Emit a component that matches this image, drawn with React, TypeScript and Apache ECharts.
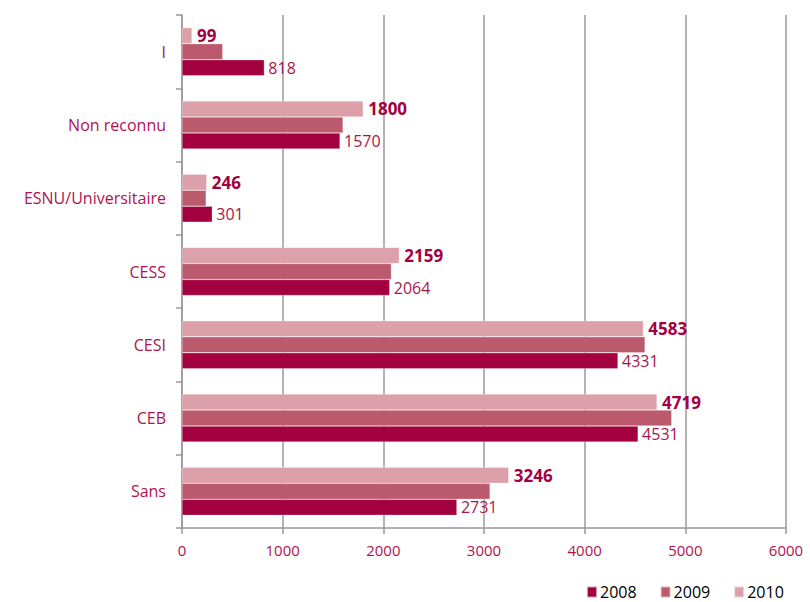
import React, { useEffect, useRef } from "react";
import * as echarts from "echarts";

const categories = ["Sans", "CEB", "CESI", "CESS", "ESNU/Universitaire", "Non reconnu", "I"];
const values2008 = [2731, 4531, 4331, 2064, 301, 1570, 818];
const values2009 = [3060, 4865, 4600, 2080, 240, 1600, 405];
const values2010 = [3246, 4719, 4583, 2159, 246, 1800, 99];
const seriesNames = ["2008", "2009", "2010"];
const xTicks = { min: 0, max: 6000, interval: 1000 };

const FONT = "'Open Sans', 'Noto Sans', sans-serif";
const LABEL_RED = "#B0124F";

export default function App() {
  const ref = useRef<HTMLDivElement>(null);
  useEffect(() => {
    if (!ref.current) return;
    const chart = echarts.init(ref.current, undefined, { renderer: "svg" });
    const colors = ["#A3003F", "#BC5A6D", "#DBA0A9"];
    const data = [values2008, values2009, values2010];
    const order = [2, 1, 0]; // top-to-bottom within a band: 2010, 2009, 2008
    chart.setOption({
      animation: false,
      textStyle: { fontFamily: FONT },
      grid: { left: 182, right: 24, top: 15, bottom: 74, containLabel: false },
      legend: {
        data: seriesNames,
        left: 581,
        top: 579,
        icon: "rect",
        itemWidth: 10,
        itemHeight: 11,
        itemGap: 23,
        textStyle: { color: "#000", fontSize: 16, fontFamily: FONT, padding: [0, 0, 0, -2] },
      },
      xAxis: {
        type: "value",
        min: xTicks.min,
        max: xTicks.max,
        interval: xTicks.interval,
        axisLine: { show: true, lineStyle: { color: "#9a9a9a", width: 1.5 } },
        axisTick: { show: true, length: 6, lineStyle: { color: "#9a9a9a", width: 1.5 } },
        axisLabel: { color: LABEL_RED, fontSize: 15, margin: 14, fontFamily: FONT, formatter: (v: number) => String(v) },
        splitLine: { show: true, lineStyle: { color: "#9a9a9a", width: 1.5 } },
      },
      yAxis: {
        type: "category",
        data: categories,
        axisLine: { show: true, lineStyle: { color: "#9a9a9a", width: 1.5 } },
        axisTick: { show: true, length: 6, lineStyle: { color: "#9a9a9a", width: 1.5 } },
        axisLabel: { color: LABEL_RED, fontSize: 16, margin: 16, fontFamily: FONT },
      },
      series: order.map((i) => ({
        name: seriesNames[i],
        type: "bar",
        data: data[i],
        barWidth: 16,
        barGap: "0%",
        itemStyle: { color: colors[i], borderColor: "rgba(255,255,255,0.6)", borderWidth: 0.5 },
        label:
          i === 0
            ? { show: true, position: "right", distance: 4, color: "#A8174B", fontSize: 16, fontFamily: FONT }
            : i === 2
            ? { show: true, position: "right", distance: 5, color: "#A3003F", fontSize: 17, fontWeight: "bold", fontFamily: FONT }
            : { show: false },
      })),
    });
    return () => chart.dispose();
  }, []);
  return <div ref={ref} style={{ width: 810, height: 602, position: "absolute", left: 0, top: 0, background: "#fff" }} />;
}
